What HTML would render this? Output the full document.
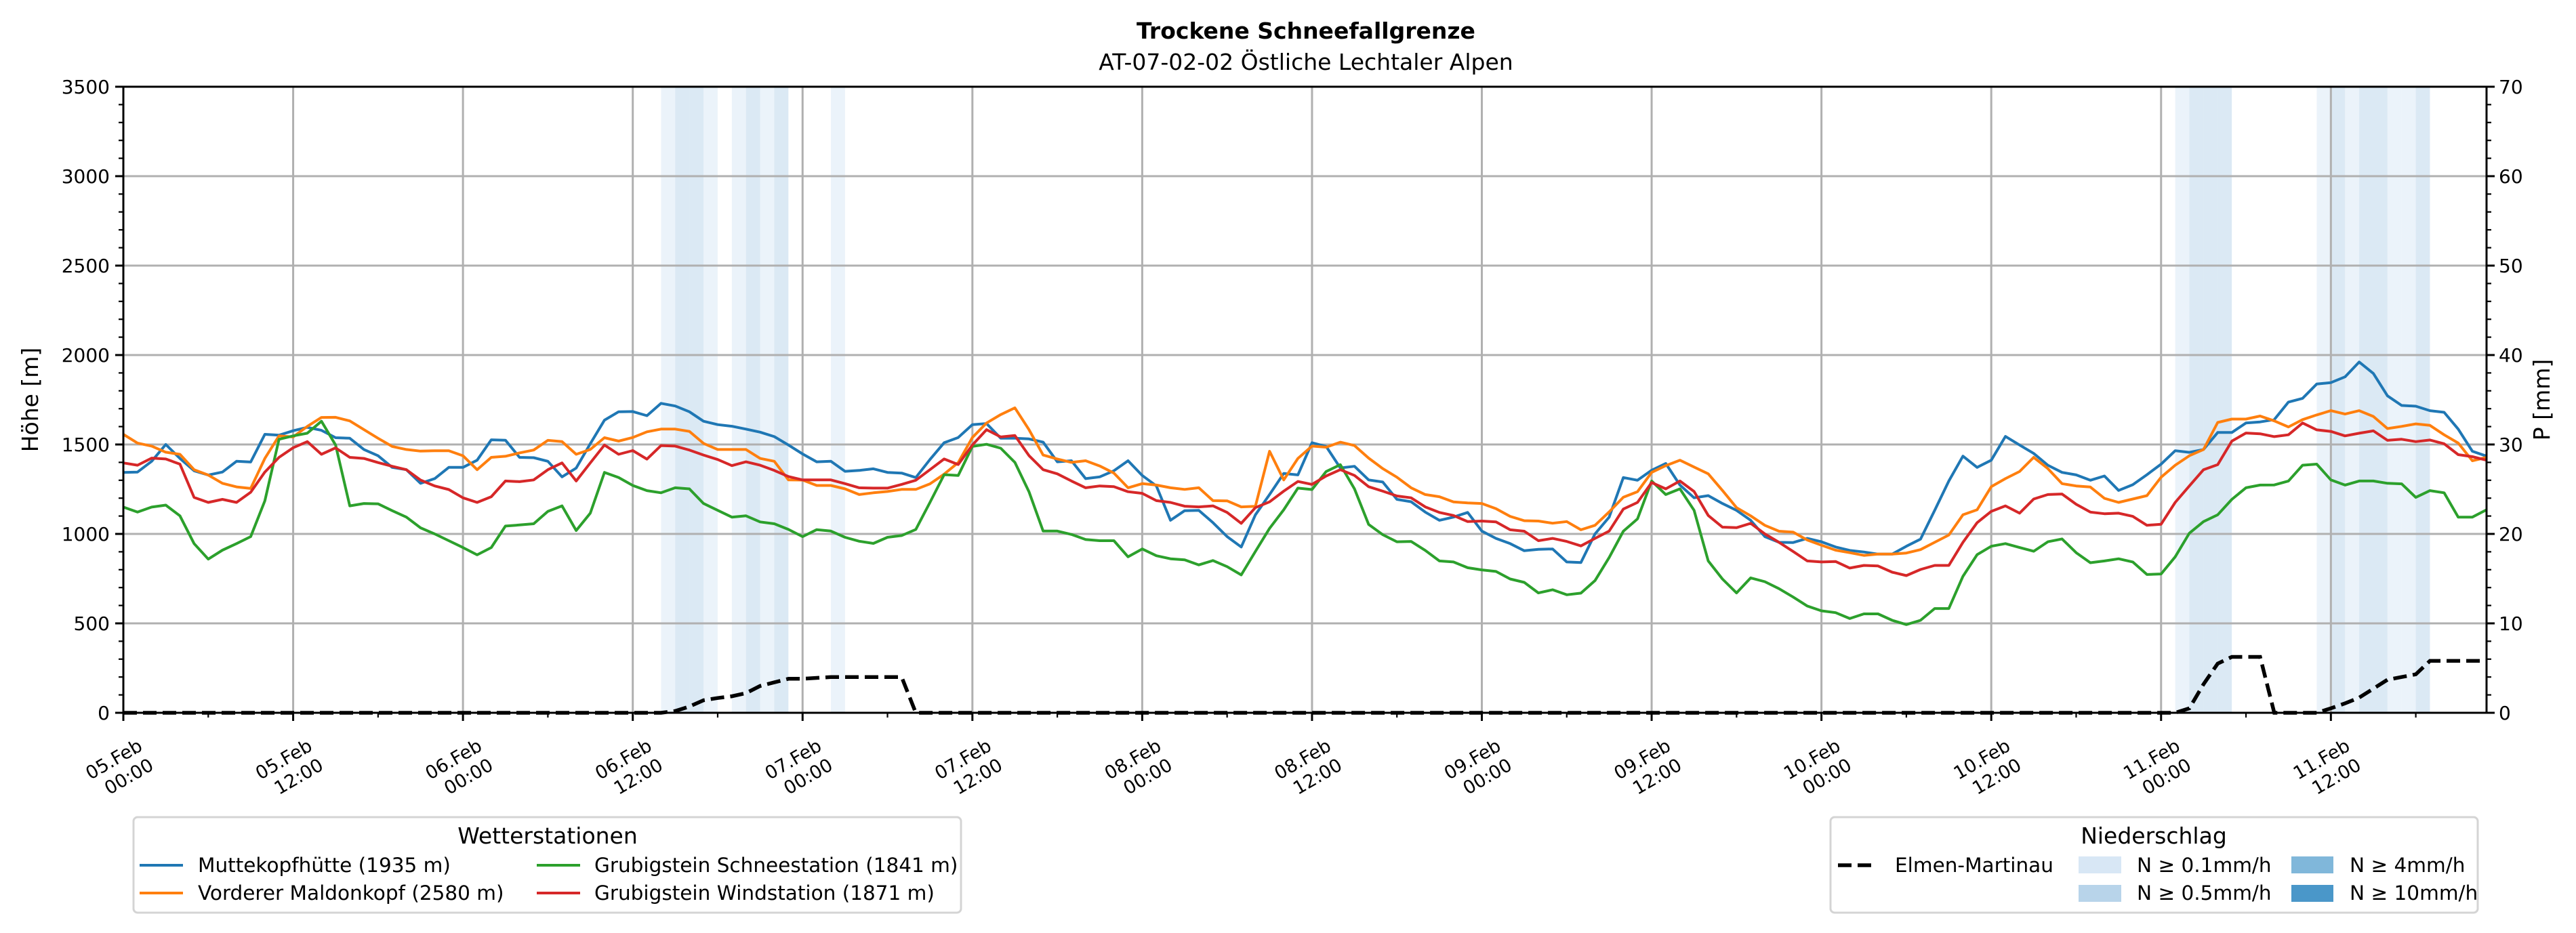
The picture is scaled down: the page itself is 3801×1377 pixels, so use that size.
<!DOCTYPE html>
<html><head><meta charset="utf-8"><title>Trockene Schneefallgrenze</title>
<style>
html,body{margin:0;padding:0;background:#fff;}
svg{display:block;font-family:"DejaVu Sans","Liberation Sans",sans-serif;}
</style></head>
<body>
<svg id="chart" width="3801" height="1377" viewBox="0 0 3801 1377" xmlns="http://www.w3.org/2000/svg">
<rect x="0" y="0" width="3801" height="1377" fill="#fff"/>
<text x="1927" y="57" text-anchor="middle" font-size="33" font-weight="bold">Trockene Schneefallgrenze</text>
<text x="1927" y="103" text-anchor="middle" font-size="33">AT-07-02-02 Östliche Lechtaler Alpen</text>
<g id="bands"></g>
<g id="grid"></g>
<g id="lines"></g>
<g id="precip"></g>
<g id="axes"></g>
<text transform="translate(56,590) rotate(-90)" text-anchor="middle" font-size="33">Höhe [m]</text>
<text transform="translate(3762,590) rotate(-90)" text-anchor="middle" font-size="33">P [mm]</text>

<g>
<rect x="197" y="1206" width="1221" height="141" rx="6" fill="#fff" stroke="#d4d4d4" stroke-width="3"/>
<text x="808" y="1245" text-anchor="middle" font-size="33">Wetterstationen</text>
<g><line x1="206" y1="1277" x2="270" y2="1277" stroke="#1f77b4" stroke-width="4"/><text x="292" y="1287" font-size="29.5">Muttekopfhütte (1935 m)</text></g>
<g><line x1="206" y1="1318" x2="270" y2="1318" stroke="#ff7f0e" stroke-width="4"/><text x="292" y="1328" font-size="29.5">Vorderer Maldonkopf (2580 m)</text></g>
<g><line x1="792" y1="1277" x2="856" y2="1277" stroke="#2ca02c" stroke-width="4"/><text x="877" y="1287" font-size="29.5">Grubigstein Schneestation (1841 m)</text></g>
<g><line x1="792" y1="1318" x2="856" y2="1318" stroke="#d62728" stroke-width="4"/><text x="877" y="1328" font-size="29.5">Grubigstein Windstation (1871 m)</text></g>
</g>

<g>
<rect x="2701" y="1206" width="955" height="141" rx="6" fill="#fff" stroke="#d4d4d4" stroke-width="3"/>
<text x="3178" y="1245" text-anchor="middle" font-size="33">Niederschlag</text>
<g><line x1="2712" y1="1277" x2="2768" y2="1277" stroke="#000" stroke-width="5.5" stroke-dasharray="20 9"/><text x="2796" y="1287" font-size="29.5">Elmen-Martinau</text></g>
<g><rect x="3067" y="1264" width="63" height="25" fill="#d8e7f5"/><text x="3153" y="1287" font-size="29.5">N ≥ 0.1mm/h</text></g>
<g><rect x="3067" y="1306" width="63" height="25" fill="#b8d4ea"/><text x="3153" y="1328" font-size="29.5">N ≥ 0.5mm/h</text></g>
<g><rect x="3381" y="1264" width="62" height="25" fill="#80b7da"/><text x="3467" y="1287" font-size="29.5">N ≥ 4mm/h</text></g>
<g><rect x="3381" y="1306" width="62" height="25" fill="#4a97c9"/><text x="3467" y="1328" font-size="29.5">N ≥ 10mm/h</text></g>
</g>
</svg>
<script>
// hourly data, 05.Feb 00:00 (h0) .. 11.Feb 23:00 (h167)
const muttekopf = [1344,1346,1406,1500,1422,1353,1329,1346,1406,1402,1557,1552,1577,1596,1579,1538,1535,1472,1437,1372,1359,1283,1309,1372,1372,1412,1526,1524,1428,
1426,1406,1319,1368,1504,1636,1683,1684,1661,1730,1715,1683,1630,1611,1602,1586,1569,1544,1497,1447,1403,1406,1350,1355,1364,1344,1340,1315,
1416,1510,1539,1611,1617,1535,1535,1531,1513,1403,1409,1309,1319,1353,1409,1327,1268,1076,1130,1132,1063,985,927,1107,1220,1338,1330,1510,
1489,1369,1378,1302,1290,1193,1180,1122,1076,1094,1120,1016,975,946,906,914,916,843,840,1000,1094,1315,1300,1356,1394,1273,1202,
1214,1170,1132,1076,985,953,952,975,956,927,908,899,887,887,931,971,1132,1296,1435,1372,1412,1545,1497,1450,1384,1344,1330,1300,
1324,1243,1275,1331,1390,1465,1456,1472,1567,1567,1620,1626,1639,1737,1758,1838,1846,1878,1961,1897,1772,1718,1714,1689,1680,1586,1462,1435];
const maldonkopf = [1557,1508,1491,1457,1445,1359,1329,1283,1263,1254,1422,1548,1542,1601,1651,1652,1632,1583,1535,1489,1472,1463,1465,1465,1437,1359,1428,1434,1453,
1469,1523,1516,1445,1472,1538,1519,1539,1571,1586,1586,1573,1506,1472,1472,1472,1422,1406,1302,1301,1271,1271,1252,1220,1230,1237,1249,1249,
1280,1334,1399,1539,1620,1667,1705,1583,1441,1419,1400,1409,1380,1340,1258,1281,1273,1258,1249,1258,1186,1185,1151,1154,1462,1302,1422,1491,
1485,1513,1494,1424,1365,1317,1258,1220,1208,1179,1173,1170,1141,1098,1074,1072,1060,1069,1023,1048,1123,1205,1236,1344,1382,1412,1374,
1336,1243,1147,1101,1048,1015,1010,966,937,909,895,880,887,887,893,912,953,994,1107,1135,1264,1309,1349,1428,1365,1281,1268,1262,
1199,1176,1195,1214,1317,1384,1437,1472,1623,1642,1642,1659,1632,1598,1639,1665,1689,1670,1689,1657,1589,1601,1615,1607,1554,1508,1409,1428];
const schneestation = [1150,1122,1150,1161,1101,946,859,909,946,985,1185,1529,1548,1563,1630,1497,1157,1170,1168,1130,1094,1034,1000,962,924,883,924,1044,1050,
1057,1126,1157,1019,1116,1344,1315,1271,1242,1230,1258,1252,1170,1132,1094,1101,1067,1057,1025,985,1024,1016,981,959,947,981,991,1025,
1176,1331,1327,1489,1501,1479,1400,1236,1016,1016,997,969,962,962,872,916,878,861,855,827,851,817,771,902,1031,1135,1256,1248,
1349,1387,1252,1053,996,956,958,908,849,843,811,799,790,748,729,670,688,660,669,739,868,1015,1084,1296,1220,1252,1132,
849,748,670,754,733,694,647,597,570,560,527,553,553,517,493,517,583,583,763,884,931,946,924,903,956,972,895,839,
849,861,843,773,776,872,1004,1069,1107,1193,1258,1273,1274,1296,1384,1390,1302,1273,1296,1296,1283,1280,1204,1242,1230,1094,1094,1135];
const windstation = [1397,1384,1424,1419,1390,1204,1176,1193,1176,1233,1346,1428,1482,1516,1445,1481,1428,1422,1399,1378,1359,1301,1268,1248,1202,1176,1208,1296,1292,
1302,1359,1397,1296,1397,1497,1445,1466,1418,1494,1491,1469,1441,1416,1382,1403,1384,1355,1321,1302,1302,1302,1281,1258,1256,1256,1277,1300,
1359,1419,1388,1497,1583,1542,1550,1438,1359,1336,1296,1258,1268,1264,1236,1227,1186,1176,1155,1151,1157,1120,1059,1147,1179,1239,1293,1277,
1324,1359,1327,1264,1239,1212,1202,1151,1120,1103,1069,1072,1067,1023,1015,962,975,958,933,975,1016,1139,1176,1287,1252,1296,1237,
1103,1038,1035,1059,1000,953,902,849,843,846,809,824,821,786,767,801,824,824,953,1063,1126,1157,1116,1195,1220,1223,1166,1122,
1113,1116,1098,1048,1054,1176,1268,1359,1387,1519,1564,1560,1544,1554,1620,1582,1573,1548,1563,1576,1523,1529,1516,1525,1504,1443,1432,1412];
const precipSum = [
0,0,0,0,0,0,0,0,0,0,
0,0,0,0,0,0,0,0,0,0,
0,0,0,0,0,0,0,0,0,0,
0,0,0,0,0,0,0,0,0,
0.2,0.7,1.4,1.65,1.85,2.2,3.0,3.4,3.8,3.8,3.9,4.0,4.0,4.0,4.0,4.0,4.0,
0,0,0,0,0,0,0,0,0,0,
0,0,0,0,0,0,0,0,0,0,
0,0,0,0,0,0,0,0,0,0,
0,0,0,0,0,0,0,0,0,0,
0,0,0,0,0,0,0,0,0,0,
0,0,0,0,0,0,0,0,0,0,
0,0,0,0,0,0,0,0,0,0,
0,0,0,0,0,0,0,0,0,0,
0,0,0,0,0,0,0,0,0,0,
0.5,3.2,5.5,6.25,6.25,6.25,
0,0,0,0,
0.5,1.05,1.7,2.7,3.7,4.0,4.3,5.8,5.8,5.8,5.8,5.8];
const bandHours = [38,39,40,41,43,44,45,46,50,145,146,147,148,155,156,157,158,159,160,161,162];
const bandLevels = [1,2,2,1,1,2,1,2,1,1,2,2,2,1,2,1,2,2,1,1,2];
const yTicks = [0,500,1000,1500,2000,2500,3000,3500];
const y2Ticks = [0,10,20,30,40,50,60,70];
const xTickHours = [0,12,24,36,48,60,72,84,96,108,120,132,144,156];
const xTickLabels = [["05.Feb","00:00"],["05.Feb","12:00"],["06.Feb","00:00"],["06.Feb","12:00"],["07.Feb","00:00"],["07.Feb","12:00"],["08.Feb","00:00"],["08.Feb","12:00"],["09.Feb","00:00"],["09.Feb","12:00"],["10.Feb","00:00"],["10.Feb","12:00"],["11.Feb","00:00"],["11.Feb","12:00"]];

const NS = "http://www.w3.org/2000/svg";
const L = 182, R = 3669, T = 128, B = 1052, HMAX = 167;
function xS(h){ return L + h*(R-L)/HMAX; }
function yL(v){ return B - v*(B-T)/3500; }
function yR(p){ return B - p*(B-T)/70; }
function mk(tag, attrs, parent){ const e=document.createElementNS(NS,tag); for(const k in attrs) e.setAttribute(k,attrs[k]); parent.appendChild(e); return e; }

const bands = document.getElementById('bands');
const bandColors = {1:'#d8e7f5',2:'#b8d4ea',3:'#80b7da',4:'#4a97c9'};
bandHours.forEach((h,i)=>{
  const r = mk('rect',{x:xS(h),y:T,width:xS(h+1)-xS(h),height:B-T,fill:bandColors[bandLevels[i]],'fill-opacity':0.5},bands);
  
  
});

const grid = document.getElementById('grid');
xTickHours.forEach(h=>{ const g=mk('line',{x1:xS(h),x2:xS(h),y1:T,y2:B,stroke:'#b0b0b0','stroke-width':3},grid);
  
   });
yTicks.forEach(v=>{ const g=mk('line',{x1:L,x2:R,y1:yL(v),y2:yL(v),stroke:'#b0b0b0','stroke-width':3},grid);
  
   });

const lines = document.getElementById('lines');
const series = [[muttekopf,'#1f77b4','line-muttekopf'],[maldonkopf,'#ff7f0e','line-maldonkopf'],[schneestation,'#2ca02c','line-schneestation'],[windstation,'#d62728','line-windstation']];
series.forEach(s=>{
  const pts = s[0].map((v,h)=>xS(h).toFixed(1)+','+yL(v).toFixed(1)).join(' ');
  const p = mk('polyline',{points:pts,fill:'none',stroke:s[1],'stroke-width':4,'stroke-linejoin':'round'},lines);
  
  
});

const pr = document.getElementById('precip');
const ppts = precipSum.map((v,h)=>xS(h).toFixed(1)+','+yR(v).toFixed(1)).join(' ');
const pl = mk('polyline',{points:ppts,fill:'none',stroke:'#000','stroke-width':5.5,'stroke-dasharray':'20 9'},pr);



const ax = document.getElementById('axes');
mk('rect',{x:L,y:T,width:R-L,height:B-T,fill:'none',stroke:'#000','stroke-width':3},ax);
for(let v=0; v<=3500; v+=100){ const major = v%500===0; mk('line',{x1:L-(major?12:7),x2:L,y1:yL(v),y2:yL(v),stroke:'#000','stroke-width':major?3:2.2},ax); }
yTicks.forEach(v=>{ const t=mk('text',{x:L-20,y:yL(v)+10,'text-anchor':'end','font-size':28},ax); t.textContent=v;
  
   });
for(let p=0; p<=70; p+=2){ const major = p%10===0; mk('line',{x1:R,x2:R+(major?12:7),y1:yR(p),y2:yR(p),stroke:'#000','stroke-width':major?3:2.2},ax); }
y2Ticks.forEach(p=>{ const t=mk('text',{x:R+18,y:yR(p)+10,'font-size':28},ax); t.textContent=p;
  
   });
for(let h=0; h<=HMAX; h+=6){ const major = h%12===0; mk('line',{x1:xS(h),x2:xS(h),y1:B,y2:B+(major?12:7),stroke:'#000','stroke-width':major?3:2.2},ax); }
xTickHours.forEach((h,i)=>{
  const g = mk('g',{transform:'translate('+(xS(h)+30)+',1106) rotate(-30)'},ax);
  
  
  const t1=mk('text',{x:0,y:0,'text-anchor':'end','font-size':27},g); t1.textContent=xTickLabels[i][0];
  const t2=mk('text',{x:0,y:33,'text-anchor':'end','font-size':27},g); t2.textContent=xTickLabels[i][1];
});
</script>
</body></html>
